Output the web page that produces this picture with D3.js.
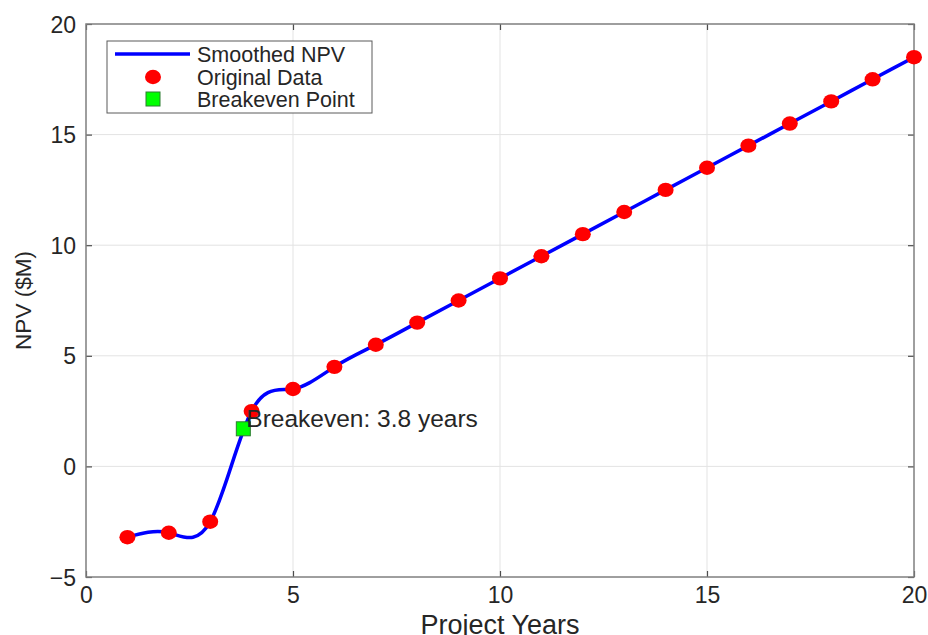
<!DOCTYPE html>
<html>
<head>
<meta charset="utf-8">
<script src="https://cdn.jsdelivr.net/npm/d3@7"></script>
<style>
  body { margin: 0; background: #fff; }
  text { font-family: "Liberation Sans", Arial, sans-serif; fill: #262626; }
</style>
</head>
<body>
<div id="chart"></div>
<script>
// data
var years = [1, 2, 3, 4, 5, 6, 7, 8, 9, 10, 11, 12, 13, 14, 15, 16, 17, 18, 19, 20];
var npv = [-3.2, -3.0, -2.5, 2.5, 3.5, 4.5, 5.5, 6.5, 7.5, 8.5, 9.5, 10.5, 11.5, 12.5, 13.5, 14.5, 15.5, 16.5, 17.5, 18.5];
var breakevenYear = [3.8];
var breakevenNpv = [1.7];
var xTicks = [0, 5, 10, 15, 20];
var yTicks = [-5, 0, 5, 10, 15, 20];
var legendLabels = ['Smoothed NPV', 'Original Data', 'Breakeven Point'];

var W = 928, H = 635;
var plotL = 86, plotR = 914, plotT = 24, plotB = 577;

var svg = d3.select('#chart').append('svg')
	.attr('width', W)
	.attr('height', H);

var x = d3.scaleLinear().domain([0, 20]).range([plotL, plotR]);
var y = d3.scaleLinear().domain([-5, 20]).range([plotB, plotT]);

var points = years.map(function(d, i) { return {x: d, y: npv[i]}; });

// grid
svg.append('g').selectAll('line').data(xTicks.slice(1, -1)).enter().append('line')
	.attr('x1', function(d) { return x(d); }).attr('x2', function(d) { return x(d); })
	.attr('y1', plotT).attr('y2', plotB)
	.attr('stroke', '#e3e3e3').attr('stroke-width', 1);
svg.append('g').selectAll('line').data(yTicks.slice(1, -1)).enter().append('line')
	.attr('y1', function(d) { return y(d); }).attr('y2', function(d) { return y(d); })
	.attr('x1', plotL).attr('x2', plotR)
	.attr('stroke', '#e3e3e3').attr('stroke-width', 1);

// axes, ticks pointing inward on all four sides
var axB = svg.append('g').attr('transform', 'translate(0,' + plotB + ')')
	.call(d3.axisBottom(x).tickValues(xTicks).tickSize(-6).tickPadding(0).tickFormat(d3.format('d')));
var axT = svg.append('g').attr('transform', 'translate(0,' + plotT + ')')
	.call(d3.axisTop(x).tickValues(xTicks).tickSize(-6).tickFormat(''));
var axL = svg.append('g').attr('transform', 'translate(' + plotL + ',0)')
	.call(d3.axisLeft(y).tickValues(yTicks).tickSize(-6).tickPadding(0).tickFormat(d3.format('d')));
var axR = svg.append('g').attr('transform', 'translate(' + plotR + ',0)')
	.call(d3.axisRight(y).tickValues(yTicks).tickSize(-6).tickFormat(''));

[axB, axT, axL, axR].forEach(function(a) {
	a.select('.domain').remove();
	a.selectAll('line').attr('stroke', '#4d4d4d').attr('stroke-width', 1.2);
});

axB.selectAll('text')
	.attr('y', 26).attr('dy', null)
	.style('font-size', '23px').style('fill', '#262626');
axL.selectAll('text')
	.attr('x', -10).attr('dy', '0.35em')
	.style('font-size', '23px').style('fill', '#262626');

svg.append('rect')
	.attr('x', plotL).attr('y', plotT)
	.attr('width', plotR - plotL).attr('height', plotB - plotT)
	.attr('fill', 'none').attr('stroke', '#7f7f7f').attr('stroke-width', 1.5);

// smoothed line through the original points
var line = d3.line()
	.x(function(d) { return x(d.x); })
	.y(function(d) { return y(d.y); })
	.curve(d3.curveNatural);

svg.append('path').datum(points)
	.attr('d', line)
	.attr('fill', 'none')
	.attr('stroke', '#0000ff')
	.attr('stroke-width', 3.5);

svg.append('g').selectAll('ellipse').data(points).enter().append('ellipse')
	.attr('cx', function(d) { return x(d.x); })
	.attr('cy', function(d) { return y(d.y); })
	.attr('rx', 8).attr('ry', 7.2)
	.attr('fill', '#ff0000');

svg.append('g').selectAll('rect').data(breakevenYear).enter().append('rect')
	.attr('x', function(d) { return x(d) - 7; })
	.attr('y', function(d, i) { return y(breakevenNpv[i]) - 7; })
	.attr('width', 14).attr('height', 14)
	.attr('fill', '#00ff00').attr('stroke', '#2e7d32').attr('stroke-width', 1);

svg.append('text')
	.attr('x', x(breakevenYear[0]) + 3)
	.attr('y', y(breakevenNpv[0]) - 2)
	.style('font-size', '24.5px')
	.text('Breakeven: ' + breakevenYear[0] + ' years');

// axis titles
svg.append('text')
	.attr('x', (plotL + plotR) / 2)
	.attr('y', 634)
	.attr('text-anchor', 'middle')
	.style('font-size', '27px')
	.text('Project Years');

svg.append('text')
	.attr('transform', 'translate(31,' + ((plotT + plotB) / 2) + ') rotate(-90)')
	.attr('text-anchor', 'middle')
	.style('font-size', '22.5px')
	.text('NPV ($M)');

// legend
var lg = svg.append('g').attr('transform', 'translate(107,41)');
lg.append('rect')
	.attr('width', 265).attr('height', 72)
	.attr('fill', '#fff').attr('stroke', '#5a5a5a').attr('stroke-width', 1);
var rowY = [13, 36, 58];
lg.append('line')
	.attr('x1', 8).attr('x2', 83).attr('y1', rowY[0]).attr('y2', rowY[0])
	.attr('stroke', '#0000ff').attr('stroke-width', 3.5);
lg.append('ellipse')
	.attr('cx', 46).attr('cy', rowY[1]).attr('rx', 8).attr('ry', 7.2)
	.attr('fill', '#ff0000');
lg.append('rect')
	.attr('x', 39).attr('y', rowY[2] - 7).attr('width', 14).attr('height', 14)
	.attr('fill', '#00ff00').attr('stroke', '#2e7d32').attr('stroke-width', 1);
lg.selectAll('text.lbl').data(legendLabels).enter().append('text')
	.attr('class', 'lbl')
	.attr('x', 90)
	.attr('y', function(d, i) { return rowY[i]; })
	.attr('dy', '0.35em')
	.style('font-size', '21.5px')
	.text(function(d) { return d; });
</script>
</body>
</html>
